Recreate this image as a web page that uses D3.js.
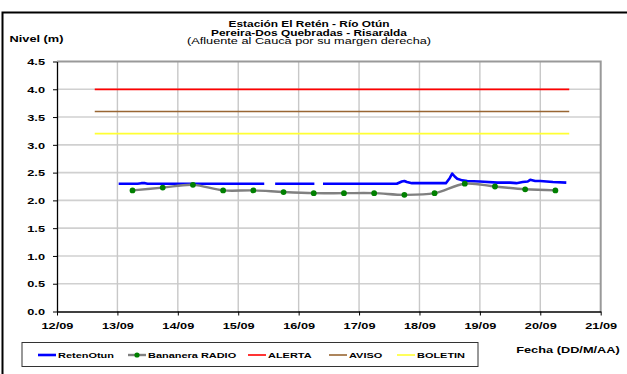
<!DOCTYPE html>
<html><head><meta charset="utf-8">
<script src="https://cdn.jsdelivr.net/npm/d3@7"></script>
<style>
body{margin:0;background:#fff}
svg{display:block}
text{font-family:"Liberation Sans",Arial,sans-serif;fill:#000}
</style>
</head><body>
<svg id="chart" width="627" height="374"></svg>
<script>
// ---- data ----
const titleLines = ["Estación El Retén - Río Otún", "Pereira-Dos Quebradas - Risaralda", "(Afluente al Cauca por su margen derecha)"];
const yAxisTitle = "Nivel (m)";
const xAxisTitle = "Fecha (DD/M/AA)";
const yTicks = [0, 0.5, 1.0, 1.5, 2.0, 2.5, 3.0, 3.5, 4.0, 4.5];
const xTickLabels = ["12/09", "13/09", "14/09", "15/09", "16/09", "17/09", "18/09", "19/09", "20/09", "21/09"];

const retenTimes = ["13/09 00:30","13/09 08:00","13/09 09:30","13/09 11:00","13/09 12:00","14/09 00:00","15/09 00:00","15/09 10:20",
  "15/09 12:00","15/09 14:40","16/09 06:15","16/09 08:00","16/09 09:40","17/09 00:00","17/09 15:00","17/09 17:00","17/09 18:00",
  "17/09 19:00","17/09 21:00","18/09 00:00","18/09 10:30","18/09 12:00","18/09 13:00","18/09 14:00","18/09 15:00","18/09 17:00",
  "18/09 19:00","19/09 00:00","19/09 07:00","19/09 12:00","19/09 14:30","19/09 17:00","19/09 19:00","19/09 20:00","19/09 22:00",
  "20/09 00:00","20/09 02:30","20/09 05:00","20/09 10:20"];
const retenValues = [2.30,2.30,2.31,2.31,2.30,2.30,2.30,2.30,
  null,2.30,2.30,null,2.30,2.30,2.30,2.34,2.35,
  2.33,2.31,2.31,2.31,2.40,2.48,2.43,2.39,2.36,
  2.35,2.34,2.32,2.32,2.31,2.33,2.34,2.37,2.35,
  2.35,2.34,2.33,2.32];

const bananeraTimes = ["13/09 06:00","13/09 18:00","14/09 06:00","14/09 18:00","15/09 06:00","15/09 18:00","16/09 06:00","16/09 18:00",
  "17/09 06:00","17/09 18:00","18/09 06:00","18/09 18:00","19/09 06:00","19/09 18:00","20/09 06:00"];
const bananeraValues = [2.18,2.23,2.28,2.18,2.18,2.15,2.13,2.13,2.13,2.10,2.13,2.30,2.25,2.20,2.18];

const thresholdNames = ["ALERTA", "AVISO", "BOLETIN"];
const thresholdValues = [4.0, 3.6, 3.2];
const thresholdSpan = ["12/09 15:00", "20/09 11:30"];

const legendNames = ["RetenOtun", "Bananera RADIO", "ALERTA", "AVISO", "BOLETIN"];
const seriesColors = {RetenOtun: "#0000ff", "Bananera RADIO": "#808080", ALERTA: "#ff0000", AVISO: "#996633", BOLETIN: "#ffff33"};

// ---- layout ----
const svg = d3.select("#chart");
const P = {left: 57, right: 600.7, top: 61.5, bottom: 311.5};
const SX = 1.42;
const parse = d3.timeParse("%d/%m %H:%M");

const x = d3.scaleTime().domain([parse(xTickLabels[0] + " 00:00"), parse(xTickLabels[xTickLabels.length - 1] + " 00:00")]).range([P.left, P.right]);
const y = d3.scaleLinear().domain([0, 4.5]).range([P.bottom, P.top]);
const xTickDates = xTickLabels.map(s => parse(s + " 00:00"));

function stext(sel, px, py, str, size, weight, anchor, sx) {
  return sel.append("text")
    .attr("transform", `translate(${px},${py}) scale(${sx},1)`)
    .attr("font-size", size).attr("font-weight", weight)
    .attr("text-anchor", anchor).text(str);
}

// outer frame
svg.append("rect").attr("x", 2.5).attr("y", 12.5).attr("width", 700).attr("height", 400)
  .attr("fill", "none").attr("stroke", "#000").attr("stroke-width", 2);

// title
const titleBase = [27.4, 35.6, 43.8];
const titleSX = [1.38, 1.38, 1.48];
titleLines.forEach((t, i) => stext(svg, 309, titleBase[i], t, 8.6, i < 2 ? "bold" : "normal", "middle", titleSX[i]));

// gridlines
const grid = svg.append("g");
grid.selectAll("line.h").data(yTicks.filter(v => v > 0 && v < 4.5)).join("line")
  .attr("x1", P.left).attr("x2", P.right).attr("y1", d => y(d)).attr("y2", d => y(d))
  .attr("stroke", "#d0d0d0").attr("stroke-width", 1.6);
grid.selectAll("line.v").data(xTickDates.slice(1, -1)).join("line")
  .attr("x1", d => x(d)).attr("x2", d => x(d)).attr("y1", P.top).attr("y2", P.bottom)
  .attr("stroke", "#c8c8c8").attr("stroke-width", 1.4);

// plot frame top/right
svg.append("path").attr("d", `M${P.left},${P.top}H${P.right}V${P.bottom}`)
  .attr("fill", "none").attr("stroke", "#999").attr("stroke-width", 2);

// axes
const yAxis = svg.append("g").attr("transform", `translate(${P.left},0)`)
  .call(d3.axisLeft(y).tickValues(yTicks).tickFormat(d3.format(".1f")).tickSize(4).tickSizeOuter(0));
yAxis.select(".domain").attr("stroke", "#000").attr("stroke-width", 1.3);
yAxis.selectAll(".tick line").attr("stroke", "#000");
yAxis.selectAll(".tick text").attr("x", null).attr("dy", null)
  .attr("transform", `translate(-12,3.2) scale(${SX},1)`)
  .attr("font-size", 9).attr("font-weight", "bold").attr("font-family", null).attr("fill", "#000");

const xAxis = svg.append("g").attr("transform", `translate(0,${P.bottom})`)
  .call(d3.axisBottom(x).tickValues(xTickDates).tickFormat(d3.timeFormat("%d/%m")).tickSize(4).tickSizeOuter(0));
xAxis.select(".domain").attr("stroke", "#000").attr("stroke-width", 1.3);
xAxis.selectAll(".tick line").attr("stroke", "#000");
xAxis.selectAll(".tick text").attr("y", null).attr("dy", null)
  .attr("transform", `translate(0,17.4) scale(${SX},1)`)
  .attr("font-size", 9).attr("font-weight", "bold").attr("font-family", null).attr("fill", "#000");

// axis titles
stext(svg, 9.5, 42.3, yAxisTitle, 9, "bold", "start", SX);
stext(svg, 568, 353.2, xAxisTitle, 9, "bold", "middle", SX);

// series: RetenOtun
const reten = retenTimes.map((t, i) => ({t: parse(t), v: retenValues[i]}));
svg.append("path").datum(reten)
  .attr("d", d3.line().defined(d => d.v !== null).x(d => x(d.t)).y(d => y(d.v)))
  .attr("fill", "none").attr("stroke", seriesColors.RetenOtun).attr("stroke-width", 2.6).attr("stroke-linejoin", "round");

// series: Bananera RADIO
const ban = bananeraTimes.map((t, i) => ({t: parse(t), v: bananeraValues[i]}));
svg.append("path").datum(ban)
  .attr("d", d3.line().curve(d3.curveCatmullRom).x(d => x(d.t)).y(d => y(d.v)))
  .attr("fill", "none").attr("stroke", seriesColors["Bananera RADIO"]).attr("stroke-width", 2.4);
svg.selectAll("circle.b").data(ban).join("circle")
  .attr("cx", d => x(d.t)).attr("cy", d => y(d.v)).attr("r", 2.9).attr("fill", "#008000");

// thresholds
thresholdNames.forEach((n, i) => {
  svg.append("line")
    .attr("x1", x(parse(thresholdSpan[0]))).attr("x2", x(parse(thresholdSpan[1])))
    .attr("y1", y(thresholdValues[i])).attr("y2", y(thresholdValues[i]))
    .attr("stroke", seriesColors[n]).attr("stroke-width", n === "AVISO" ? 1.4 : 1.8);
});

// legend
const lg = svg.append("g");
lg.append("rect").attr("x", 22).attr("y", 342.5).attr("width", 456).attr("height", 24)
  .attr("fill", "#fff").attr("stroke", "#333").attr("stroke-width", 1);
const legendX = [38, 128, 248, 329, 397];
legendNames.forEach((n, i) => {
  const lx = legendX[i], ly = 355;
  lg.append("line").attr("x1", lx).attr("x2", lx + 18).attr("y1", ly).attr("y2", ly)
    .attr("stroke", seriesColors[n]).attr("stroke-width", n === "RetenOtun" ? 2.6 : (n === "Bananera RADIO" ? 2.4 : 1.6));
  if (n === "Bananera RADIO") lg.append("circle").attr("cx", lx + 9).attr("cy", ly).attr("r", 2.6).attr("fill", "#008000");
  stext(lg, lx + 20, ly + 3, n, 8, "bold", "start", 1.37);
});
</script>
</body></html>
